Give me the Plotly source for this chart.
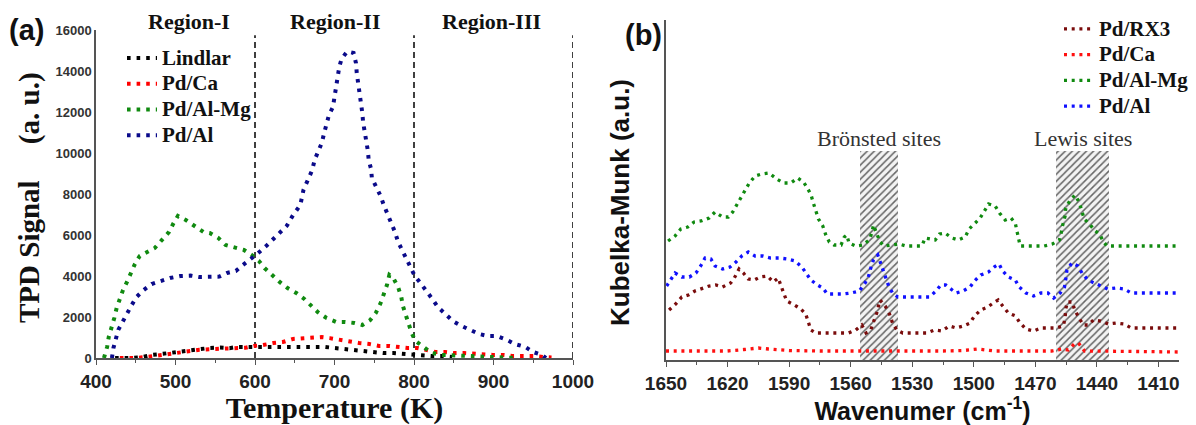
import plotly.graph_objects as go

# ---------------- Panel (a): TPD ----------------
T_lindlar = [424, 445, 459, 470, 483, 495, 506, 518, 531, 543,
             556, 568, 577, 590, 603, 615, 628, 640, 653, 675,
             688, 700, 712, 725, 736, 749, 761, 774, 786, 799,
             810, 822, 835, 848]
v_lindlar = [0, 0, 50, 150, 200, 260, 300, 390, 440, 490,
             510, 480, 540, 540, 540, 560, 580, 540, 540, 540,
             540, 490, 440, 390, 340, 290, 240, 240, 200, 150,
             150, 100, 100, 50]

T_pdca = [430, 450, 470, 485, 500, 515, 530, 545, 560, 575,
          588, 599, 610, 623, 635, 648, 659, 671, 684, 694,
          707, 720, 731, 744, 756, 768, 779, 792, 804, 815,
          827, 839, 851, 863, 875, 887, 899, 912, 924, 937,
          950, 962, 973]
v_pdca = [0, 0, 80, 160, 240, 340, 400, 430, 460, 470,
          500, 590, 630, 730, 780, 930, 970, 980, 1020, 970,
          880, 780, 730, 680, 590, 590, 540, 490, 490, 390,
          290, 290, 240, 240, 200, 200, 150, 150, 100, 100,
          100, 50, 30]

T_pdalmg = [410, 414, 416, 420, 423, 426, 430, 434, 439, 444,
            449, 455, 464, 474, 483, 492, 497, 503, 513, 523,
            535, 543, 554, 563, 575, 586, 596, 605, 612, 621,
            631, 641, 652, 662, 670, 679, 690, 702, 713, 725,
            735, 745, 752, 758, 762, 766, 769, 774, 780, 784,
            786, 790, 793, 797, 802, 810, 816, 822, 835, 860,
            900, 930]
v_pdalmg = [0, 540, 1020, 1510, 1950, 2440, 2880, 3320, 3710, 4150,
            4590, 4980, 5170, 5370, 5760, 6150, 6540, 6930, 6730, 6440,
            6150, 6100, 5850, 5510, 5370, 5270, 5020, 4730, 4390, 4050,
            3710, 3410, 3170, 2880, 2590, 2240, 1950, 1760, 1760, 1710,
            1610, 1850, 2200, 2680, 3120, 3560, 4050, 3900, 3460, 2980,
            2540, 2100, 1660, 1220, 830, 590, 450, 250, 150, 120,
            80, 0]

T_pdal = [420, 422, 428, 433, 439, 445, 451, 460, 470, 482,
          493, 506, 519, 530, 543, 555, 565, 576, 585, 595,
          604, 614, 623, 632, 640, 648, 657, 661, 667, 672,
          675, 679, 684, 687, 690, 693, 698, 700, 703, 705,
          706, 709, 716, 724, 727, 728, 730, 732, 733, 735,
          736, 738, 741, 742, 743, 746, 747, 753, 758, 762,
          767, 772, 776, 780, 785, 790, 795, 801, 808, 816,
          823, 830, 839, 849, 860, 870, 882, 893, 904, 917,
          927, 940, 950, 961, 966]
v_pdal = [0, 500, 1370, 1760, 2200, 2590, 2980, 3320, 3610, 3760,
          3900, 4000, 4020, 3950, 3970, 3970, 4150, 4250, 4540, 4830,
          5120, 5460, 5800, 6100, 6450, 6980, 7460, 8200, 8680, 9170,
          9660, 10050, 10490, 10980, 11370, 11850, 12240, 12730, 13220, 13710,
          14200, 14600, 14950, 14880, 14390, 13900, 13410, 12930, 12440, 11950,
          11500, 11020, 10590, 10100, 9660, 9220, 8780, 8340, 7900, 7460,
          7020, 6590, 6150, 5660, 5270, 4830, 4440, 4000, 3660, 3270,
          2880, 2490, 2150, 1800, 1560, 1370, 1170, 1070, 1070, 880,
          680, 540, 290, 150, 0]

region_bounds = [600, 800, 1000]
region_line_top = 15750
region_names = ["Region-I", "Region-II", "Region-III"]
region_centers = [517, 700, 898]
tpd_yticks = [0, 2000, 4000, 6000, 8000, 10000, 12000, 14000, 16000]
tpd_xticks = [400, 500, 600, 700, 800, 900, 1000]

# ---------------- Panel (b): DRIFTS ----------------
w_rx3 = [1648.5, 1645.3, 1642.3, 1639.1, 1635.9, 1632.6, 1629, 1625.8, 1622.5, 1618.5,
         1616.7, 1614.4, 1612.3, 1609.9, 1607, 1604.2, 1600.6, 1597.7, 1595.3, 1594.1,
         1592.8, 1591.2, 1587.4, 1584.3, 1581.9, 1580.6, 1579.4, 1577, 1568, 1561.1,
         1557.5, 1554.6, 1552.5, 1550.2, 1548.9, 1547.3, 1545.7, 1543.2, 1541.1, 1539.6,
         1537.5, 1534.6, 1522.9, 1519.2, 1515.6, 1511.9, 1508.6, 1505.1, 1501.8, 1499.7,
         1496.6, 1493.2, 1490.5, 1488.1, 1485.9, 1483.2, 1479.6, 1477.8, 1474.6, 1470.9,
         1467.3, 1459.9, 1456.4, 1455.5, 1455.2, 1454.4, 1452, 1451, 1449, 1446.6,
         1444.2, 1441.7, 1438.1, 1434.4, 1430.6, 1426.7, 1423.3, 1400.5]
a_rx3 = [50, 56, 63, 65, 69, 71, 74, 75, 73, 77,
         82, 91, 87, 81, 80, 83, 84, 78, 82, 75,
         67, 59, 55, 51, 46, 37, 30, 27, 27, 27,
         30, 35, 27, 30, 38, 47, 60, 54, 46, 37,
         30, 27, 27, 30, 29, 34, 32, 34, 37, 44,
         50, 53, 57, 60, 54, 47, 44, 38, 31, 29,
         32, 32, 34, 42, 51, 58, 58, 51, 43, 35,
         35, 40, 39, 36, 37, 36, 32, 32]

w_ca = [1650, 1640, 1630, 1620, 1612, 1605, 1600, 1590, 1575, 1560,
        1545, 1530, 1515, 1505, 1498, 1490, 1475, 1462, 1457, 1454,
        1451, 1449, 1446, 1440, 1420, 1400.5]
a_ca = [9, 9, 9.5, 9, 10.5, 12, 11, 9.5, 9, 9,
        8.5, 9, 9, 9.5, 11, 9, 9, 9, 11, 10,
        16, 17, 9, 9, 8.5, 8]

w_almg = [1649, 1645.6, 1642.8, 1639.4, 1636.3, 1632.9, 1629, 1626.1, 1622.5, 1619.6,
          1617.5, 1615.2, 1613.4, 1611.5, 1609.4, 1606.6, 1603.3, 1599.8, 1596, 1592.8,
          1589.2, 1585.8, 1583, 1581.1, 1579.3, 1578.2, 1577, 1575.7, 1573.6, 1572.1,
          1570.4, 1568.1, 1564.7, 1563.1, 1561.9, 1560.8, 1557.5, 1554.1, 1551, 1549.7,
          1548.9, 1547.3, 1545.7, 1543.7, 1540.3, 1536.4, 1533.1, 1529.4, 1525.3, 1523.7,
          1521.6, 1518.8, 1516.7, 1514, 1510.7, 1507.5, 1504.2, 1502.3, 1499.3, 1496.9,
          1494.8, 1492.8, 1489.6, 1487.5, 1484.7, 1481.9, 1479.8, 1479, 1477.9, 1477.4,
          1473.3, 1469.3, 1465.7, 1461.7, 1458.3, 1457.4, 1456.8, 1455.5, 1455.2, 1453,
          1450.6, 1448.5, 1447, 1446.2, 1443.6, 1441.3, 1438.4, 1437.1, 1435.1, 1400.5]
a_almg = [119, 124, 131, 133, 138, 139, 142, 148, 143, 143,
          148, 156, 163, 170, 177, 184, 186, 187, 181, 177,
          177, 182, 178, 172, 165, 157, 148, 141, 134, 125,
          118, 115, 115, 123, 125, 117, 114, 115, 120, 127,
          135, 127, 118, 114, 115, 116, 114, 114, 114, 122,
          121, 120, 126, 127, 122, 120, 123, 131, 137, 142,
          149, 156, 154, 147, 140, 142, 137, 130, 122, 114,
          114, 114, 114, 116, 120, 127, 134, 144, 152, 160,
          165, 157, 148, 141, 136, 130, 125, 119, 114, 114]

w_al = [1649.7, 1648, 1645.6, 1642.3, 1638.6, 1635.4, 1633.1, 1631, 1628.1, 1626.1,
        1622.4, 1618.8, 1615.9, 1613.1, 1609.9, 1606.6, 1602.9, 1599, 1594.8, 1590.9,
        1587.1, 1583.8, 1581.9, 1579.4, 1576.2, 1573.6, 1571.4, 1567.6, 1563.6, 1559.8,
        1555.8, 1553, 1551.4, 1550.2, 1548.9, 1546.8, 1545.5, 1544.3, 1542.8, 1541.5,
        1539.6, 1537, 1533.1, 1529.4, 1525.5, 1521.6, 1518.4, 1516.1, 1513.7, 1511.2,
        1508.6, 1505.3, 1501.8, 1499.7, 1496.6, 1492.9, 1490.1, 1487.7, 1485.9, 1483.2,
        1479.8, 1477.9, 1474.6, 1470.9, 1467.3, 1463.9, 1461.1, 1457.9, 1455.8, 1455.1,
        1454.6, 1452.2, 1449.3, 1447.3, 1444.4, 1441.3, 1438.4, 1434.7, 1430.6, 1426.7,
        1423.3, 1400.5]
a_al = [74, 80, 87, 83, 83, 87, 94, 102, 101, 94,
        91, 93, 98, 104, 108, 104, 104, 102, 102, 101,
        99, 93, 87, 80, 75, 72, 66, 66, 66, 67,
        69, 77, 83, 92, 100, 105, 97, 89, 82, 74,
        67, 63, 63, 63, 63, 63, 69, 75, 75, 71,
        67, 69, 73, 79, 85, 88, 93, 96, 89, 83,
        80, 73, 67, 64, 67, 67, 62, 67, 73, 82,
        90, 97, 94, 87, 80, 77, 74, 71, 72, 71,
        67, 67]

bronsted_range = [1555.4, 1536.7]
lewis_range = [1459.8, 1434.0]
hatch_top = 209
site_labels = ["Brönsted sites", "Lewis sites"]
ir_xticks = [1650, 1620, 1590, 1560, 1530, 1500, 1470, 1440, 1410]

SERIF = "Liberation Serif, Times New Roman, serif"
SANS = "Liberation Sans, Arial, sans-serif"
W, H = 1196, 425
NB = "\u00a0"


def big(name):
    # larger glyphs inside a legend whose row pitch follows the (smaller) legend font
    return '<span style="font-size:21px">' + name + '</span>'


fig = go.Figure()

# hatched site regions (drawn first, under the curves)
for rng in (bronsted_range, lewis_range):
    fig.add_trace(go.Bar(
        x=[(rng[0] + rng[1]) / 2], y=[hatch_top], width=[abs(rng[0] - rng[1])], base=0,
        xaxis="x2", yaxis="y2", showlegend=False, hoverinfo="skip",
        marker=dict(color="#f3f3f3", line=dict(width=0),
                    pattern=dict(shape="/", fgcolor="#666666", bgcolor="#f3f3f3",
                                 size=5, solidity=0.3, fillmode="replace"))))

# region boundaries
for xb in region_bounds:
    fig.add_trace(go.Scatter(x=[xb, xb], y=[0, region_line_top], mode="lines",
                             line=dict(color="black", width=1.5, dash="6px,4px"),
                             showlegend=False, hoverinfo="skip", xaxis="x", yaxis="y"))

dot_a = "3.6px,6px"
left_series = [("Lindlar", T_lindlar, v_lindlar, "#000000"),
               ("Pd/Ca", T_pdca, v_pdca, "#ff0000"),
               ("Pd/Al-Mg", T_pdalmg, v_pdalmg, "#108a10"),
               ("Pd/Al", T_pdal, v_pdal, "#0a0a8a")]
for name, xs, ys, col in left_series:
    fig.add_trace(go.Scatter(x=xs, y=ys, mode="lines", name=big(name),
                             line=dict(color=col, width=4, dash=dot_a),
                             xaxis="x", yaxis="y", legend="legend"))

dot_b = "3px,4.7px"
right_series = [("Pd/RX3", w_rx3, a_rx3, "#7a0c0c"),
                ("Pd/Ca", w_ca, a_ca, "#ff1010"),
                ("Pd/Al-Mg", w_almg, a_almg, "#108a10"),
                ("Pd/Al", w_al, a_al, "#1010ff")]
for name, xs, ys, col in right_series:
    fig.add_trace(go.Scatter(x=xs, y=ys, mode="lines", name=big(name),
                             line=dict(color=col, width=3.3, dash=dot_b),
                             xaxis="x2", yaxis="y2", legend="legend2"))

annotations = []
for name, xc in zip(region_names, region_centers):
    annotations.append(dict(text=name, x=xc, xref="x", xanchor="center",
                            y=1 - 21 / H, yref="paper", yanchor="middle", showarrow=False,
                            font=dict(family=SERIF, size=22, color="#111", weight="bold")))

for name, rng in zip(site_labels, (bronsted_range, lewis_range)):
    annotations.append(dict(text=name, x=(rng[0] + rng[1]) / 2, xref="x2", xanchor="center",
                            y=hatch_top, yref="y2", yanchor="bottom", yshift=-2,
                            showarrow=False, font=dict(family=SERIF, size=22, color="#333")))

annotations.append(dict(text="(a)", x=26 / W, xref="paper", xanchor="center",
                        y=1 - 30 / H, yref="paper", yanchor="middle", showarrow=False,
                        font=dict(family=SANS, size=29, color="#111", weight="bold")))
annotations.append(dict(text="(b)", x=643 / W, xref="paper", xanchor="center",
                        y=1 - 35 / H, yref="paper", yanchor="middle", showarrow=False,
                        font=dict(family=SANS, size=29, color="#111", weight="bold")))
annotations.append(dict(text="Kubelka-Munk (a.u.)", textangle=-90,
                        x=620 / W, xref="paper", xanchor="center",
                        y=1 - 203 / H, yref="paper", yanchor="middle", showarrow=False,
                        font=dict(family=SANS, size=26, color="#111", weight="bold")))
annotations.append(dict(text="TPD Signal" + NB * 5 + "(a." + NB + "u.)", textangle=-90,
                        x=30 / W, xref="paper", xanchor="center",
                        y=1 - 198 / H, yref="paper", yanchor="middle", showarrow=False,
                        font=dict(family=SERIF, size=29, color="#111", weight="bold")))

fig.update_layout(
    width=W, height=H, margin=dict(l=0, r=0, t=0, b=0, autoexpand=False),
    paper_bgcolor="white", plot_bgcolor="white",
    barmode="overlay", bargap=0,
    annotations=annotations,
    xaxis=dict(domain=[96 / W, 573 / W], range=[400, 1000], tickvals=tpd_xticks,
               automargin=False,
               showline=True, linecolor="#555", linewidth=1.5, showgrid=False, zeroline=False,
               ticks="outside", ticklen=5, tickwidth=1.2, tickcolor="#555",
               minor=dict(dtick=50, ticks="outside", ticklen=3, tickcolor="#555"),
               tickfont=dict(family=SANS, size=19, color="#222", weight="bold"),
               title=dict(text="Temperature (K)", standoff=9,
                          font=dict(family=SERIF, size=30, color="#111", weight="bold"))),
    yaxis=dict(domain=[67 / H, 395 / H], range=[0, 16000], tickvals=tpd_yticks,
               tickformat="d", automargin=False,
               showline=True, linecolor="#555", linewidth=1.5, showgrid=False, zeroline=False,
               ticks="", tickfont=dict(family=SANS, size=13, color="#333", weight="bold")),
    xaxis2=dict(domain=[666 / W, 1179 / W], range=[1650, 1400], tickvals=ir_xticks,
                anchor="y2", automargin=False,
                showline=True, linecolor="#555", linewidth=1.5, showgrid=False, zeroline=False,
                ticks="outside", ticklen=5, tickwidth=1.2, tickcolor="#555",
                minor=dict(dtick=15, ticks="outside", ticklen=3, tickcolor="#555"),
                tickfont=dict(family=SANS, size=19, color="#222", weight="bold"),
                title=dict(text="Wavenumer (cm<sup>-1</sup>)", standoff=8,
                           font=dict(family=SANS, size=25, color="#111", weight="bold"))),
    yaxis2=dict(domain=[65 / H, 405 / H], range=[0, 340], anchor="x2", automargin=False,
                showline=True, linecolor="#555", linewidth=1.5, showgrid=False, zeroline=False,
                showticklabels=False, ticks=""),
    legend=dict(x=122 / W, xanchor="left", y=1 - 40 / H, yanchor="top",
                bgcolor="rgba(0,0,0,0)", tracegroupgap=0, itemwidth=30,
                font=dict(family=SERIF, size=17.5, color="#111", weight="bold")),
    legend2=dict(x=1059 / W, xanchor="left", y=1 - 11 / H, yanchor="top",
                 bgcolor="rgba(0,0,0,0)", tracegroupgap=0, itemwidth=30,
                 font=dict(family=SERIF, size=17.5, color="#111", weight="bold")),
)

fig.write_html("out.html")
